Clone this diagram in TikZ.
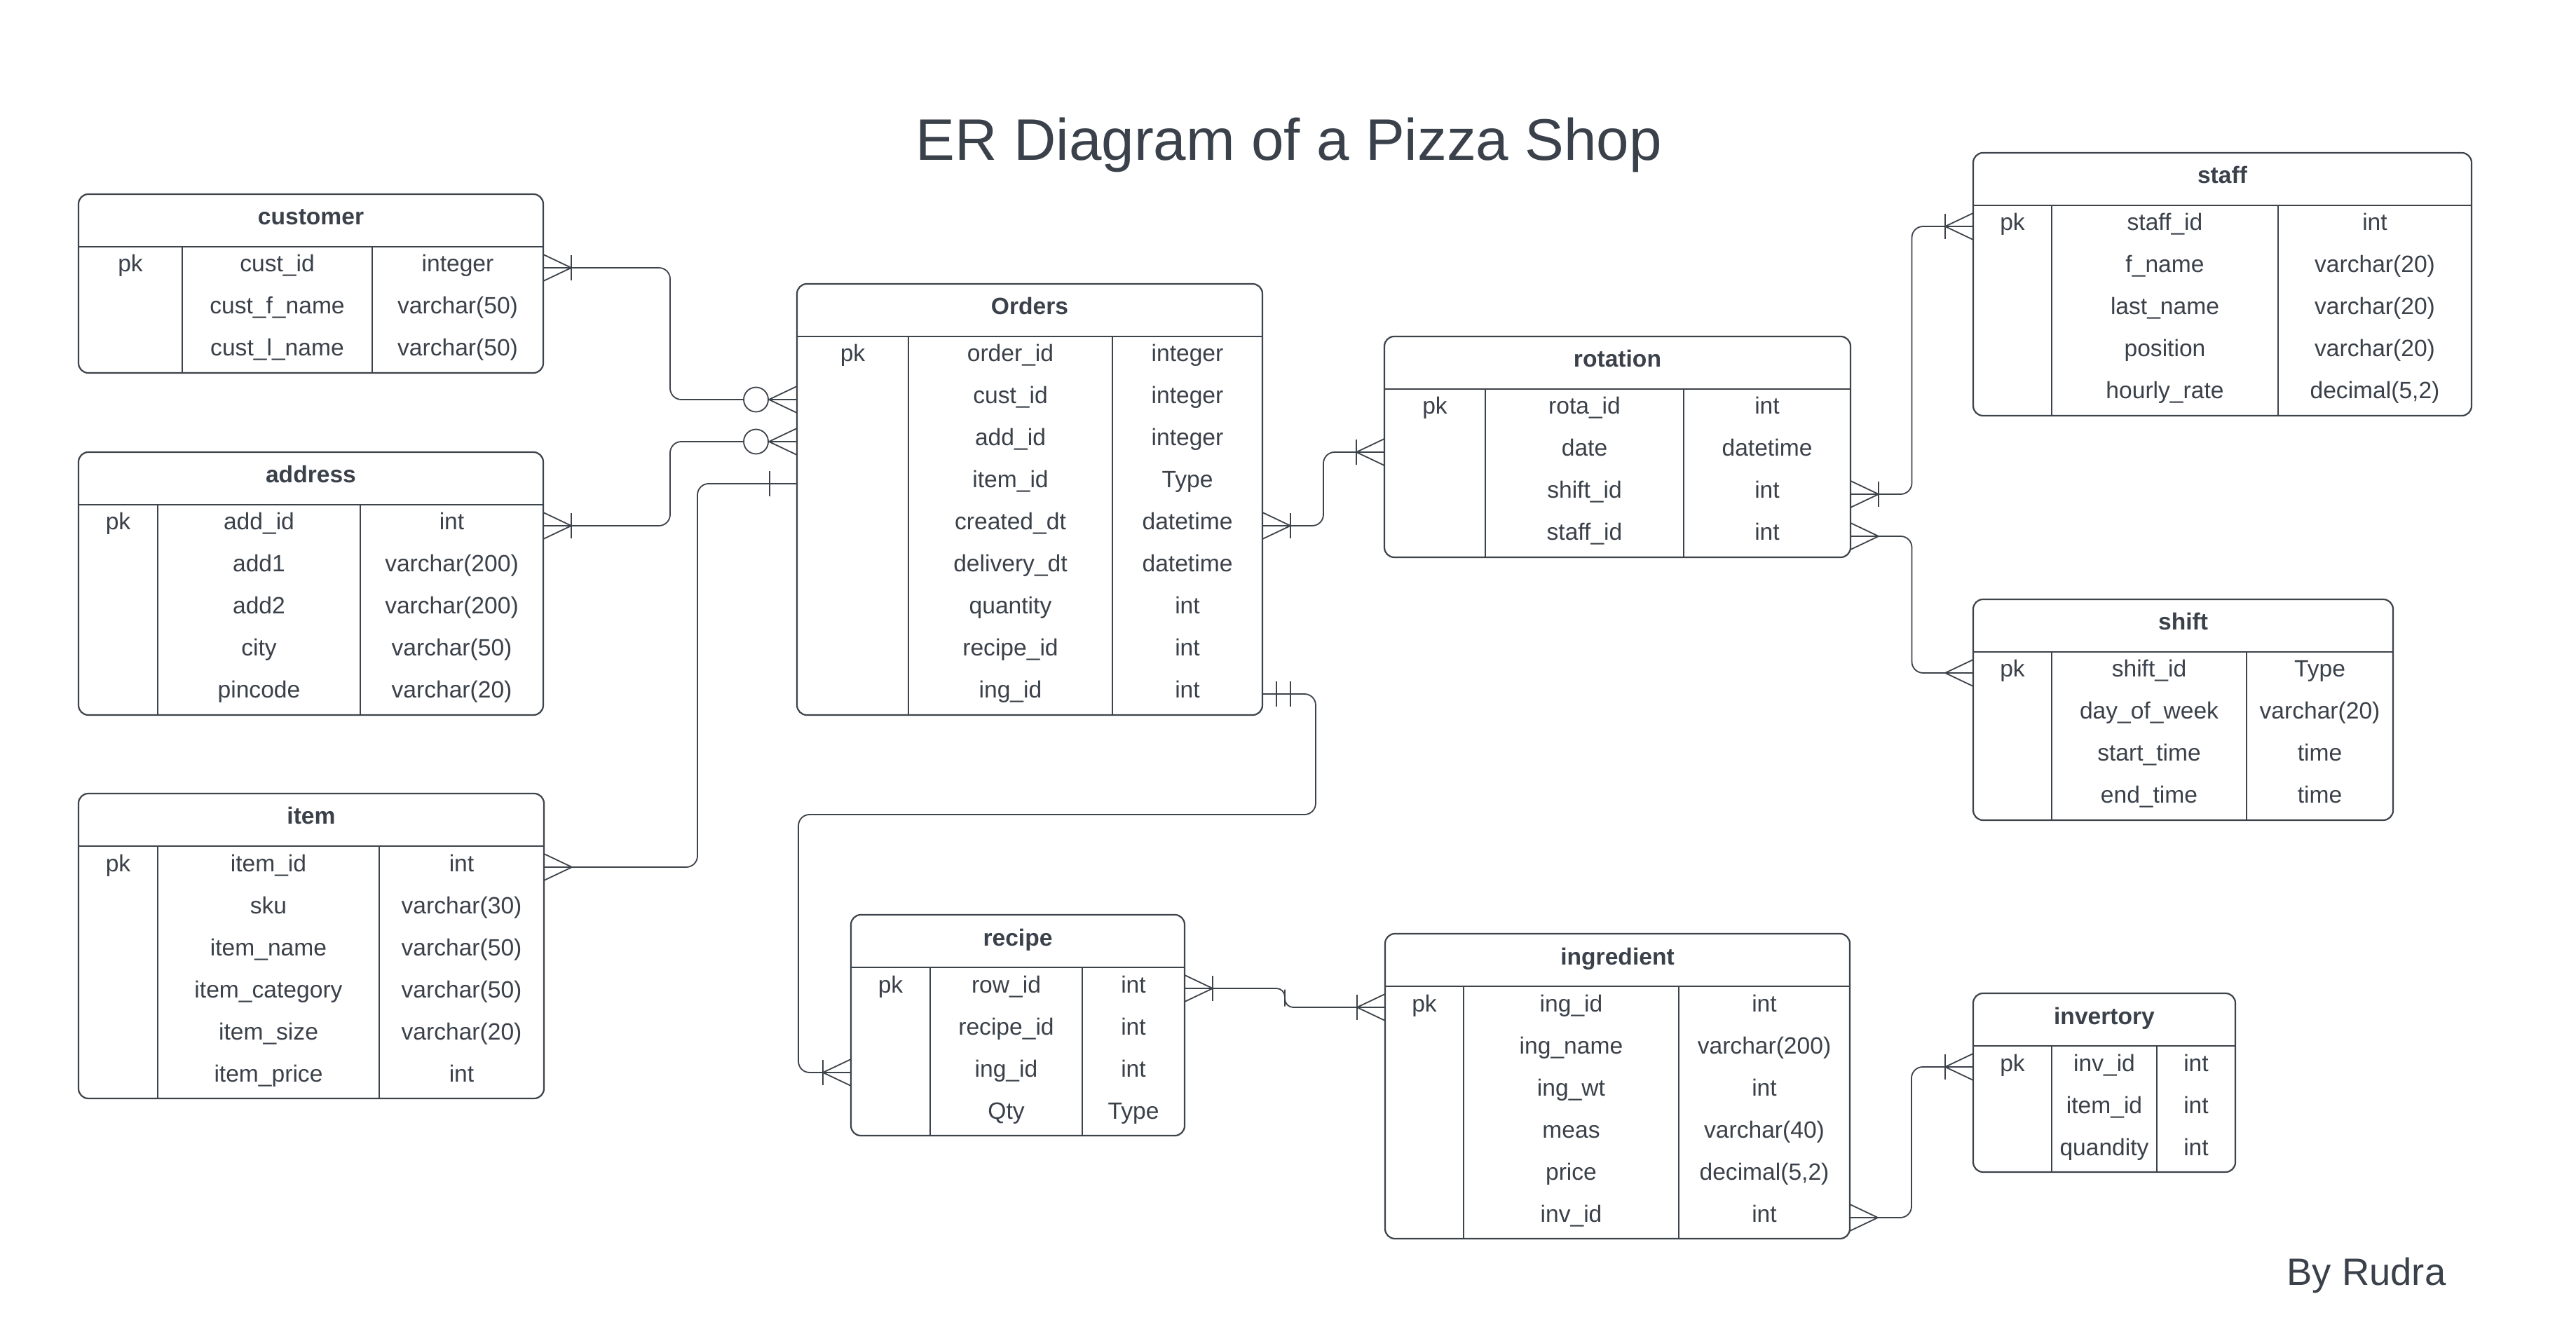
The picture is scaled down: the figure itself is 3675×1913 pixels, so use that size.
\documentclass[tikz,border=0pt]{standalone}
\usepackage{fontspec}
\setmainfont{Liberation Sans}
\usetikzlibrary{calc}
\definecolor{ink}{HTML}{3A414A}
\definecolor{edgec}{HTML}{3D434B}
\tikzset{
  tblframe/.style={draw=edgec, line width=0.55pt, rounded corners=3.5pt, rectangle, inner sep=0pt, outer sep=0pt},
  tblinner/.style={draw=edgec, line width=0.5pt},
  cell/.style={anchor=base, inner sep=0pt, text=ink, font=\fontsize{8.4}{10}\selectfont},
  hdr/.style={anchor=base, inner sep=0pt, text=ink, font=\fontsize{8.4}{10}\selectfont\bfseries},
  conn/.style={draw=edgec, line width=0.45pt, rounded corners=4pt},
  tipline/.style={draw=edgec, line width=0.45pt},
  titletext/.style={anchor=base, inner sep=0pt, text=ink, font=\fontsize{20.9}{24}\selectfont},
  authortext/.style={anchor=base, inner sep=0pt, text=ink, font=\fontsize{13.6}{16}\selectfont}
}
% table frame: #1 name, #2 x1, #3 y1, #4 x2, #5 ysep, #6 div1, #7 div2, #8 rows, #9 header
\newcommand\ertable[9]{%
  \def\erName{#1}%
  \pgfmathsetmacro\erXa{#2}\pgfmathsetmacro\erXb{#4}%
  \pgfmathsetmacro\erYs{#5}\pgfmathsetmacro\erDa{#6}\pgfmathsetmacro\erDb{#7}%
  \pgfmathsetmacro\erYb{#5+60*#8}%
  \pgfmathsetmacro\erW{(#4-#2)*0.25}\pgfmathsetmacro\erH{(\erYb-#3)*0.25}%
  \node[tblframe, minimum width=\erW pt, minimum height=\erH pt] (#1) at ({(#2+#4)/2},{(#3+\erYb)/2}) {};
  \draw[tblinner] (#2,#5) -- (#4,#5) (#6,#5) -- (#6,\erYb) (#7,#5) -- (#7,\erYb);
  \node[hdr] (#1-h) at ({(#2+#4)/2},{#3+44}) {#9};
  \node[cell] (#1-pk) at ({(#2+#6)/2},{#5+36}) {pk};
}
\newcommand\errows[1]{%
  \foreach \erA/\erB [count=\erI] in {#1} {
    \node[cell] (\erName-n\erI) at ({(\erDa+\erDb)/2},{\erYs+36+60*(\erI-1)}) {\erA};
    \node[cell] (\erName-t\erI) at ({(\erDb+\erXb)/2},{\erYs+36+60*(\erI-1)}) {\erB};
    \coordinate (\erName-r\erI) at ({(\erXa+\erXb)/2},{\erYs+30+60*(\erI-1)});
  }
}
% end markers: #1 point on table edge, #2 direction (1 = to the right)
\newcommand\ercrow[2]{\begin{scope}[shift={(#1)},xscale=#2]\draw[tipline] (0,-19) -- (40,0) -- (0,19);\end{scope}}
\newcommand\erbar[3]{\begin{scope}[shift={(#1)},xscale=#2]\draw[tipline] (#3,-18) -- (#3,18);\end{scope}}
\newcommand\ercirc[2]{\begin{scope}[shift={(#1)},xscale=#2]\draw[tipline,fill=white] (58.5,0) circle[radius=4.375pt];\end{scope}}
\newcommand\eronemany[2]{\ercrow{#1}{#2}\erbar{#1}{#2}{40}}
\newcommand\erzeromany[2]{\ercrow{#1}{#2}\ercirc{#1}{#2}}
\newcommand\eroneone[2]{\erbar{#1}{#2}{20}\erbar{#1}{#2}{40}}
\begin{document}
\begin{tikzpicture}[x=0.25pt,y=-0.25pt]
\useasboundingbox[fill=white] (0,0) rectangle (3675,1913);
\node[titletext] (title) at (1839,229) {ER Diagram of a Pizza Shop};
\node[authortext] (author) at (3376,1833) {By Rudra};

\ertable{customer}{112}{277}{775}{352}{260}{531}{3}{customer}
\errows{cust\_id/integer, cust\_f\_name/varchar(50), cust\_l\_name/varchar(50)}

\ertable{address}{112}{645}{775}{720}{225}{514}{5}{address}
\errows{add\_id/int, add1/varchar(200), add2/varchar(200), city/varchar(50), pincode/varchar(20)}

\ertable{item}{112}{1132}{776}{1207}{225}{541}{6}{item}
\errows{item\_id/int, sku/varchar(30), item\_name/varchar(50), item\_category/varchar(50), item\_size/varchar(20), item\_price/int}

\ertable{orders}{1137}{405}{1801}{480}{1296}{1587}{9}{Orders}
\errows{order\_id/integer, cust\_id/integer, add\_id/integer, item\_id/Type, created\_dt/datetime, delivery\_dt/datetime, quantity/int, recipe\_id/int, ing\_id/int}

\ertable{rotation}{1975}{480}{2640}{555}{2119}{2402}{4}{rotation}
\errows{rota\_id/int, date/datetime, shift\_id/int, staff\_id/int}

\ertable{staff}{2815}{218}{3526}{293}{2927}{3250}{5}{staff}
\errows{staff\_id/int, f\_name/varchar(20), last\_name/varchar(20), position/varchar(20), hourly\_rate/{decimal(5,2)}}

\ertable{shift}{2815}{855}{3414}{930}{2927}{3205}{4}{shift}
\errows{shift\_id/Type, day\_of\_week/varchar(20), start\_time/time, end\_time/time}

\ertable{recipe}{1214}{1305}{1690}{1380}{1327}{1544}{4}{recipe}
\errows{row\_id/int, recipe\_id/int, ing\_id/int, Qty/Type}

\ertable{ingredient}{1976}{1332}{2639}{1407}{2088}{2395}{6}{ingredient}
\errows{ing\_id/int, ing\_name/varchar(200), ing\_wt/int, meas/varchar(40), price/{decimal(5,2)}, inv\_id/int}

\ertable{inventory}{2815}{1417}{3189}{1492}{2927}{3077}{3}{invertory}
\errows{inv\_id/int, item\_id/int, quandity/int}

% connector end points
\coordinate (cuS) at (customer.east |- customer-r1);
\coordinate (cuE) at (orders.west |- orders-r2);
\coordinate (adS) at (address.east |- address-r1);
\coordinate (adE) at (orders.west |- orders-r3);
\coordinate (itS) at (item.east |- item-r1);
\coordinate (itE) at (orders.west |- orders-r4);
\coordinate (itJ) at (995,1000);
\coordinate (roS) at (orders.east |- orders-r5);
\coordinate (roE) at (rotation.west |- rotation-r2);
\coordinate (reS) at (orders.east |- orders-r9);
\coordinate (reE) at (recipe.west |- recipe-r3);
\coordinate (reA) at (1877,1162);
\coordinate (reB) at (1139,1162);
\coordinate (riS) at (recipe.east |- recipe-r1);
\coordinate (riE) at (ingredient.west |- ingredient-r1);
\coordinate (stS) at (rotation.east |- rotation-r3);
\coordinate (stE) at (staff.west |- staff-r1);
\coordinate (shS) at (rotation.east |- rotation-r4);
\coordinate (shE) at (shift.west |- shift-r1);
\coordinate (inS) at (ingredient.east |- ingredient-r6);
\coordinate (inE) at (inventory.west |- inventory-r1);

% connectors
\draw[conn] (cuS) -| ($(cuS)!.5!(cuE)$) |- (cuE);
\draw[conn] (adS) -| ($(adS)!.5!(adE)$) |- (adE);
\draw[conn] (itS) -| (itJ) |- (itE);
\draw[conn] (roS) -| ($(roS)!.5!(roE)$) |- (roE);
\draw[conn] (reS) -| (reA) -- (reB) |- (reE);
\draw[conn, rounded corners=3pt] (riS) -| ($(riS)!.5!(riE)$) |- (riE);
\draw[conn] (stS) -| ($(stS)!.5!(stE)$) |- (stE);
\draw[conn] (shS) -| ($(shS)!.5!(shE)$) |- (shE);
\draw[conn] (inS) -| ($(inS)!.5!(inE)$) |- (inE);

% end markers
\eronemany{cuS}{1} \erzeromany{cuE}{-1}
\eronemany{adS}{1} \erzeromany{adE}{-1}
\ercrow{itS}{1} \erbar{itE}{-1}{39}
\eronemany{roS}{1} \eronemany{roE}{-1}
\eroneone{reS}{1} \eronemany{reE}{-1}
\eronemany{riS}{1} \eronemany{riE}{-1}
\eronemany{stS}{1} \eronemany{stE}{-1}
\ercrow{shS}{1} \ercrow{shE}{-1}
\ercrow{inS}{1} \eronemany{inE}{-1}
\end{tikzpicture}
\end{document}
